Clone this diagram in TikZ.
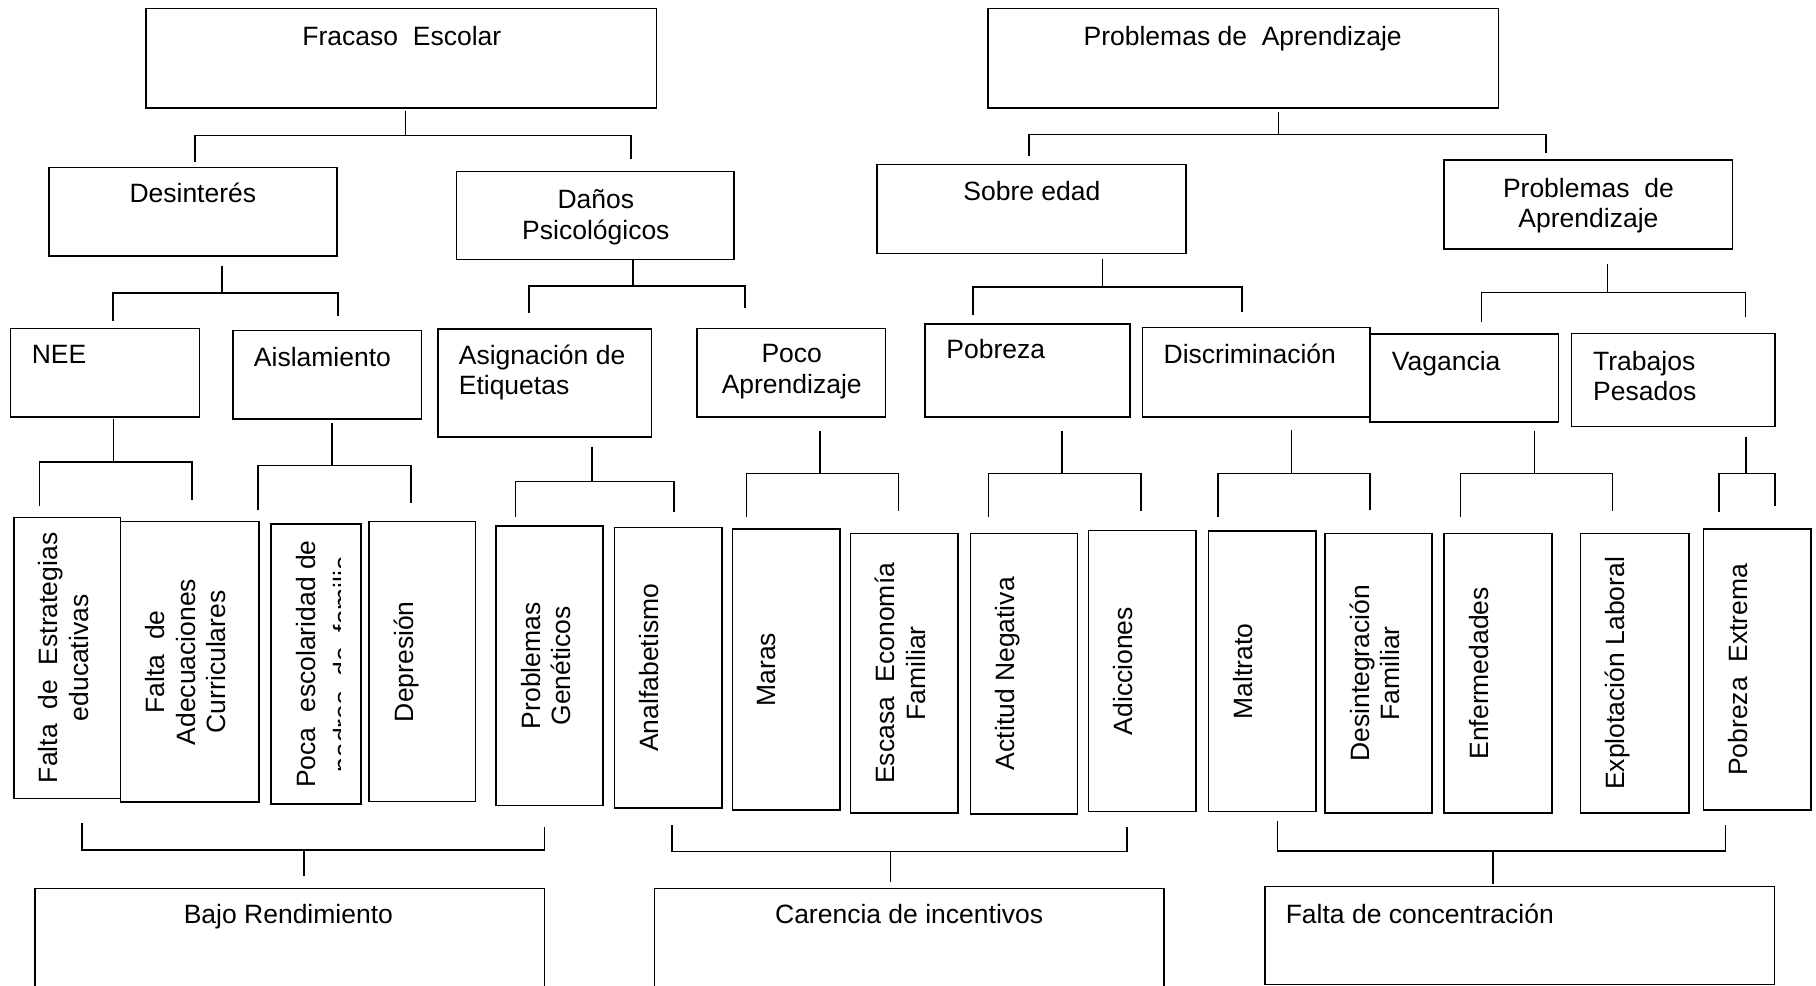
\documentclass[tikz,border=0pt]{standalone}
\usepackage{fontspec}
\setmainfont{Liberation Sans}
\usetikzlibrary{fit}
\tikzset{
  box/.style={draw, line width=1.6pt, inner sep=0pt},
  conn/.style={line width=1.6pt},
  txt/.style={inner sep=0pt, font=\fontsize{26.5}{30.5}\selectfont},
  vtxt/.style={txt, rotate=90, anchor=north, align=center},
}
\newcommand\bx[5]{\node[box, fit={(#2,#3) (#4,#5)}] (#1) {};}
\newcommand\vt[2]{\node[vtxt] (#1t) at ([xshift=25.5pt]#1.west) {#2};}
% name, stem x, stem start y, bar y, left x, left end y, right x, right end y
\newcommand\brk[8]{%
  \coordinate (#1s) at (#2,#3); \coordinate (#1j) at (#2,#4);
  \coordinate (#1l) at (#5,#4); \coordinate (#1r) at (#7,#4);
  \coordinate (#1lb) at (#5,#6); \coordinate (#1rb) at (#7,#8);
  \draw[conn] (#1s) -- (#1j);
  \draw[conn] (#1lb) -- (#1l) -- (#1r) -- (#1rb);}
\begin{document}
\begin{tikzpicture}[x=1.1582pt, y=-1.1582pt]
\path[use as bounding box] (0,0) rectangle (1568,851);
\fill[white] (0,0) rectangle (1568,851);
\clip (0,0) rectangle (1568,851);

% ---------- level 1
\bx{fe}{126}{7.5}{567}{93}
\node[txt, anchor=base] (fet) at (347,39) {Fracaso\ \ Escolar};
\bx{pa}{853}{7.5}{1294}{93}
\node[txt, anchor=base] (pat) at (1073,39) {Problemas de\ \ Aprendizaje};

\brk{b1}{350}{95.5}{117}{168.5}{140}{545}{137}
\brk{b2}{1104}{97}{116}{888.5}{135}{1335}{132.5}

% ---------- level 2
\bx{des}{42.3}{144.5}{291}{221}
\node[txt, anchor=base] (dest) at (166.5,175) {Desinterés};
\bx{dps}{394}{148}{634}{224}
\node[txt, anchor=north, align=center] (dpst) at (514.5,163.6) {Daños\\Psicológicos};
\bx{sed}{757}{142}{1024}{219}
\node[txt, anchor=base] (sedt) at (891,172.7) {Sobre edad};
\bx{pa2}{1247}{138}{1496}{215}
\node[txt, anchor=north, align=center] (pa2t) at (1371.5,153.6) {Problemas\ \ de\\Aprendizaje};

\brk{b3}{191.6}{230}{253}{97.5}{277}{291.7}{273}
\brk{b4}{546.6}{224.5}{247}{457}{270.6}{643}{266}
\brk{b5}{952}{224}{248}{840}{272}{1072.5}{269}
\brk{b6}{1388}{228}{252.5}{1279}{278}{1507}{274}

% ---------- level 3
\bx{nee}{9.2}{283.5}{172.4}{359.8}
\node[txt, anchor=base west] (neet) at (27.3,313.7) {NEE};
\bx{ais}{201.4}{285.5}{364}{361.8}
\node[txt, anchor=base] (aist) at (278.4,316.6) {Aislamiento};
\bx{ase}{378.3}{284}{562.4}{377.4}
\node[txt, anchor=north west, align=left] (aset) at (396,297.3) {Asignación de\\Etiquetas};
\bx{poc}{601.7}{283.5}{764.5}{359.8}
\node[txt, anchor=north, align=center] (poct) at (683.6,297.3) {Poco\\Aprendizaje};
\bx{pob}{798.7}{279.7}{975.8}{359.8}
\node[txt, anchor=base west] (pobt) at (817,309.4) {Pobreza};
\bx{dis}{986.5}{282.6}{1183}{359.8}
\node[txt, anchor=base west] (dist) at (1004.6,313.5) {Discriminación};
\bx{vag}{1183}{288.4}{1345.8}{364.6}
\node[txt, anchor=base west] (vagt) at (1201.6,319.5) {Vagancia};
\bx{tra}{1357}{287.8}{1532.5}{368.4}
\node[txt, anchor=north west, align=left] (trat) at (1375.4,303.1) {Trabajos\\Pesados};

\brk{b7}{98}{362}{399}{34}{436.6}{166}{431.7}
\brk{b8}{286.4}{365.5}{402}{223}{440}{355}{434.5}
\brk{b9}{511}{385.7}{415.6}{445}{446.5}{582}{441.8}
\brk{b10}{707.8}{371.8}{408.7}{644.4}{446.7}{775.8}{441}
\brk{b11}{916.8}{371.8}{408.7}{853.6}{446.7}{985.4}{441}
\brk{b12}{1115.2}{371.3}{408.7}{1051.4}{446}{1182.7}{440.3}
\brk{b13}{1324.8}{371.8}{408.7}{1261}{446.7}{1392.3}{441}
\brk{b14}{1507.7}{377}{408.7}{1484}{441.8}{1532.5}{436.6}

% ---------- level 4 (vertical text boxes)
\bx{r1}{12}{446.7}{104}{689.3}
\vt{r1}{Falta\ \ de\ \ Estrategias\\educativas}
\bx{r2}{104}{450.4}{223.6}{692.7}
\vt{r2}{Falta\ \ de\\Adecuaciones\\Curriculares}
\bx{r3}{234}{452.4}{311.8}{694.2}
\begin{scope}
  \clip (234,452.4) rectangle (294.4,694.2);
  \node[vtxt, font=\fontsize{26.5}{37}\selectfont] (r3t) at ([xshift=25.5pt]r3.west)
    {Poca\ \ escolaridad de\\padres\ \ de\ \ familia};
\end{scope}
\bx{r4}{318.5}{450.4}{410.7}{692.2}
\vt{r4}{Depresión}
\bx{r5}{428.5}{454}{520.6}{695.6}
\vt{r5}{Problemas\\Genéticos}
\bx{r6}{530.7}{455.3}{623.2}{697.9}
\vt{r6}{Analfabetismo}
\bx{r7}{632.4}{457}{725.3}{699.4}
\vt{r7}{Maras}
\bx{r8}{734.2}{460.5}{827.3}{702.2}
\vt{r8}{Escasa\ \ Economía\\Familiar}
\bx{r9}{838}{460.5}{930.5}{702.8}
\vt{r9}{Actitud Negativa}
\bx{r10}{940}{458.2}{1032.6}{700.8}
\vt{r10}{Adicciones}
\bx{r11}{1043.5}{458.5}{1136.5}{700.8}
\vt{r11}{Maltrato}
\bx{r12}{1144}{460.5}{1236.2}{702.2}
\vt{r12}{Desintegración\\Familiar}
\bx{r13}{1247}{460.5}{1339.8}{702.2}
\vt{r13}{Enfermedades}
\bx{r14}{1364.5}{460.5}{1458.5}{702.2}
\vt{r14}{Explotación Laboral}
\bx{r15}{1471}{457}{1563.6}{699.4}
\vt{r15}{Pobreza\ \ Extrema}

% ---------- bottom brackets
\brk{b15}{262.5}{756.4}{734}{71}{710.3}{470}{714.3}
\brk{b16}{769}{761.5}{735.3}{580}{712.3}{973}{713.8}
\brk{b17}{1289}{763.4}{734.8}{1103}{708.9}{1490}{712.3}

% ---------- bottom boxes
\bx{bajo}{30}{767}{470}{880}
\node[txt, anchor=base] (bajot) at (249,797.2) {Bajo Rendimiento};
\bx{car}{565}{767}{1005}{880}
\node[txt, anchor=base] (cart) at (785,797.2) {Carencia de incentivos};
\bx{fal}{1092}{765.5}{1532}{850}
\node[txt, anchor=base west] (falt) at (1110,797) {Falta de concentración};
\end{tikzpicture}
\end{document}
